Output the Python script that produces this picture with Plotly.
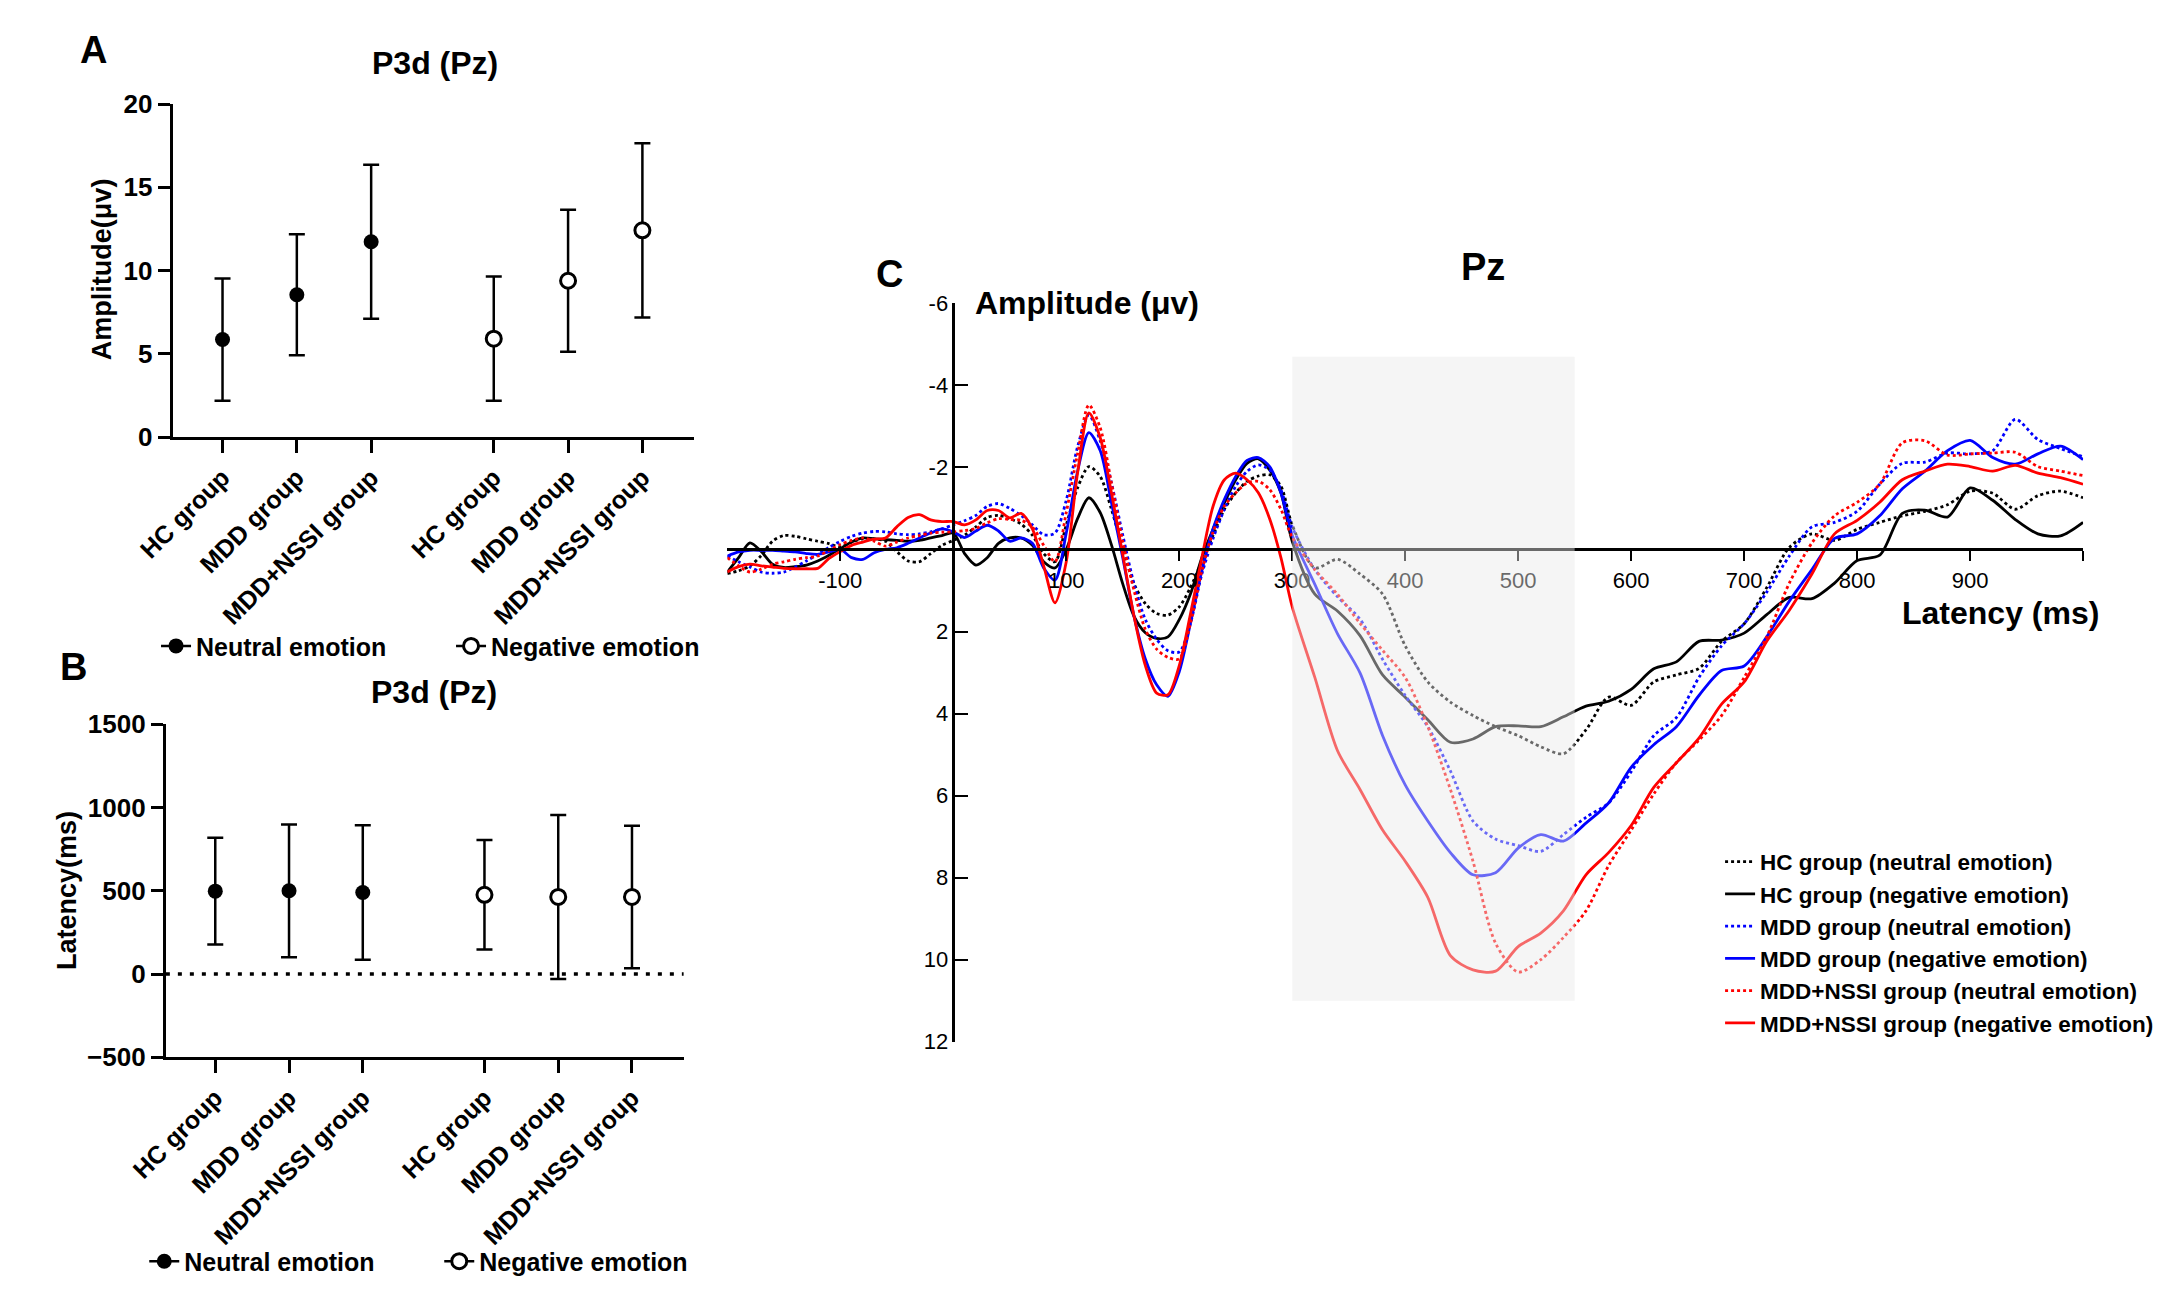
import plotly.graph_objects as go

W, H = 2164, 1289

# ---------------- data: panels A and B ----------------
groups = ['HC group', 'MDD group', 'MDD+NSSI group']
emotions = ['Neutral emotion', 'Negative emotion']

amp_neutral_mean = [5.86, 8.55, 11.73]
amp_neutral_sd = [3.67, 3.64, 4.62]
amp_negative_mean = [5.91, 9.39, 12.42]
amp_negative_sd = [3.73, 4.26, 5.23]

lat_neutral_mean = [498, 500, 490]
lat_neutral_sd = [321, 399, 404]
lat_negative_mean = [476, 463, 463]
lat_negative_sd = [329, 492, 428]

# ---------------- data: panel C (grand average ERP at Pz) ----------------
latency_ms = list(range(-200, 301, 10)) + list(range(320, 1001, 20))

hc_neutral = [
    0.59, 0.52, 0.40, 0.15, -0.20, -0.34, -0.32, -0.26, -0.20, -0.14,
    -0.06, -0.18, -0.26, -0.26, -0.20, 0.05, 0.28, 0.30, 0.10, -0.10,
    -0.22, -0.35, -0.55, -0.78, -0.83, -0.75, -0.62, -0.35, 0.10, 0.30,
    -0.60, -1.50, -2.02, -1.78, -0.98, -0.03, 0.84, 1.32, 1.56, 1.60,
    1.40, 0.92, 0.29, -0.35, -0.98, -1.38, -1.66, -1.79, -1.82, -1.54,
    -0.60,
    0.45, 0.24, 0.60, 1.09, 2.35, 3.23, 3.72, 4.05, 4.32, 4.54,
    4.81, 4.98, 4.40, 3.60, 3.80, 3.23, 3.06, 2.90, 2.24, 1.81,
    0.93, -0.05, -0.38, -0.22, -0.49, -0.66, -0.82, -0.93, -1.09, -1.42,
    -1.37, -0.98, -1.31, -1.42, -1.26]
hc_negative = [
    0.55, 0.20, -0.16, 0.05, 0.36, 0.44, 0.42, 0.38, 0.28, 0.14,
    -0.02, -0.18, -0.28, -0.26, -0.24, -0.22, -0.20, -0.22, -0.28, -0.34,
    -0.40, 0.10, 0.38, 0.20, -0.15, -0.28, -0.28, -0.10, 0.30, 0.45,
    0.00, -0.75, -1.26, -0.90, -0.11, 0.84, 1.63, 2.03, 2.17, 2.13,
    1.71, 1.08, 0.20, -0.50, -1.14, -1.70, -2.10, -2.21, -1.94, -1.38,
    -0.20,
    1.09, 1.50, 2.10, 3.06, 3.60, 4.15, 4.70, 4.62, 4.32, 4.30,
    4.32, 4.08, 3.82, 3.70, 3.41, 2.91, 2.74, 2.24, 2.21, 2.04,
    1.59, 1.17, 1.20, 0.82, 0.27, 0.14, -0.88, -0.96, -0.79, -1.50,
    -1.20, -0.73, -0.38, -0.33, -0.66]
mdd_neutral = [
    0.16, 0.30, 0.43, 0.55, 0.58, 0.55, 0.43, 0.28, 0.12, -0.05,
    -0.20, -0.32, -0.40, -0.44, -0.43, -0.38, -0.36, -0.38, -0.43, -0.50,
    -0.60, -0.70, -0.83, -1.05, -1.12, -1.00, -0.83, -0.60, -0.36, -0.40,
    -1.20, -2.50, -3.28, -2.65, -1.62, -0.35, 0.84, 1.71, 2.19, 2.47,
    2.50, 1.79, 0.60, -0.27, -0.98, -1.54, -1.90, -2.06, -1.94, -1.46,
    -0.55,
    0.49, 1.15, 1.70, 2.68, 3.56, 4.32, 5.40, 6.62, 7.06, 7.22,
    7.36, 6.95, 6.53, 6.18, 5.42, 4.54, 4.10, 3.12, 2.35, 1.81,
    1.04, 0.16, -0.55, -0.66, -0.93, -1.59, -2.10, -2.13, -2.35, -2.33,
    -2.41, -3.17, -2.68, -2.46, -2.26]
mdd_negative = [
    0.16, 0.06, 0.02, 0.02, 0.02, 0.04, 0.06, 0.10, 0.12, 0.06,
    0.00, 0.20, 0.24, 0.08, 0.00, -0.04, -0.15, -0.28, -0.40, -0.50,
    -0.43, -0.29, -0.45, -0.59, -0.45, -0.20, -0.28, -0.15, 0.45, 0.75,
    -0.40, -1.90, -2.85, -2.41, -1.14, 0.20, 1.63, 2.67, 3.30, 3.58,
    2.98, 1.79, 0.52, -0.51, -1.22, -1.78, -2.17, -2.24, -2.02, -1.38,
    -0.35,
    0.85, 2.05, 3.01, 4.54, 5.74, 6.62, 7.39, 7.93, 7.88, 7.28,
    6.95, 7.11, 6.67, 6.18, 5.31, 4.76, 4.32, 3.56, 2.95, 2.84,
    2.13, 1.26, 0.49, -0.27, -0.38, -0.82, -1.48, -1.91, -2.41, -2.66,
    -2.24, -2.08, -2.33, -2.52, -2.19]
nssi_neutral = [
    0.20, 0.40, 0.55, 0.48, 0.36, 0.30, 0.24, 0.20, 0.16, 0.02,
    -0.12, -0.22, -0.28, -0.20, -0.08, -0.18, -0.28, -0.34, -0.40, -0.42,
    -0.43, -0.46, -0.51, -0.65, -0.75, -0.73, -0.71, -0.55, -0.10, 0.30,
    -0.90, -2.33, -3.52, -2.97, -1.62, -0.19, 1.00, 1.95, 2.43, 2.63,
    2.67, 1.79, 0.52, -0.43, -1.06, -1.38, -1.62, -1.66, -1.46, -0.98,
    -0.30,
    0.49, 1.09, 1.80, 2.46, 3.12, 4.32, 5.85, 7.60, 9.60, 10.30,
    10.00, 9.46, 8.81, 7.71, 6.84, 5.96, 5.20, 4.65, 4.05, 3.12,
    2.13, 0.82, -0.16, -0.82, -1.15, -1.59, -2.60, -2.65, -2.30, -2.33,
    -2.35, -2.37, -2.02, -1.91, -1.80]
nssi_negative = [
    0.55, 0.42, 0.36, 0.40, 0.43, 0.46, 0.47, 0.47, 0.46, 0.22,
    0.05, -0.10, -0.18, -0.25, -0.28, -0.55, -0.78, -0.85, -0.72, -0.68,
    -0.68, -0.60, -0.72, -0.95, -0.95, -0.77, -0.88, -0.50, 0.40, 1.30,
    0.30, -1.86, -3.33, -2.73, -1.38, 0.13, 1.63, 2.83, 3.50, 3.54,
    2.83, 1.56, 0.20, -1.06, -1.70, -1.86, -1.70, -1.38, -0.75, 0.20,
    1.40,
    3.12, 4.90, 5.85, 6.84, 7.60, 8.48, 9.90, 10.25, 10.28, 9.68,
    9.35, 8.81, 7.93, 7.39, 6.73, 5.80, 5.20, 4.60, 3.77, 3.23,
    2.24, 1.48, 0.60, -0.38, -0.71, -1.15, -1.70, -1.91, -2.08, -2.02,
    -1.91, -2.05, -1.86, -1.75, -1.59]

c_series = [
    (hc_neutral, 'HC group (neutral emotion)', 'black', 'dot'),
    (hc_negative, 'HC group (negative emotion)', 'black', 'solid'),
    (mdd_neutral, 'MDD group (neutral emotion)', '#0000ff', 'dot'),
    (mdd_negative, 'MDD group (negative emotion)', '#0000ff', 'solid'),
    (nssi_neutral, 'MDD+NSSI group (neutral emotion)', '#ff0000', 'dot'),
    (nssi_negative, 'MDD+NSSI group (negative emotion)', '#ff0000', 'solid'),
]

# ---------------- helpers ----------------
def px(x):
    return x / W

def py(y):
    return 1 - y / H

FONT = 'Liberation Sans, Arial, sans-serif'
bold = dict(family=FONT, color='black', weight='bold')

# category positions with a gap between the two emotion blocks
gap = 3.65
pos_neutral = [i for i in range(len(groups))]
pos_negative = [i + gap for i in range(len(groups))]
cat_range = [-0.67, 6.35]

fig = go.Figure()

# ---------------- panels A & B ----------------
for xa, ya, leg, neu_m, neu_sd, neg_m, neg_sd in [
    ('x', 'y', 'legend2', amp_neutral_mean, amp_neutral_sd, amp_negative_mean, amp_negative_sd),
    ('x2', 'y2', 'legend3', lat_neutral_mean, lat_neutral_sd, lat_negative_mean, lat_negative_sd),
]:
    fig.add_trace(go.Scatter(
        x=pos_neutral, y=neu_m, mode='markers', xaxis=xa, yaxis=ya, showlegend=False,
        marker=dict(symbol='circle', size=15, color='black'),
        error_y=dict(type='data', array=neu_sd, thickness=2.5, width=8, color='black')))
    fig.add_trace(go.Scatter(
        x=pos_negative, y=neg_m, mode='markers', xaxis=xa, yaxis=ya, showlegend=False,
        marker=dict(symbol='circle', size=15, color='white', line=dict(color='black', width=3)),
        error_y=dict(type='data', array=neg_sd, thickness=2.5, width=8, color='black')))
    # legend entries
    fig.add_trace(go.Scatter(
        x=[None], y=[None], mode='lines+markers', name=emotions[0], legend=leg,
        xaxis=xa, yaxis=ya, line=dict(color='black', width=2.5),
        marker=dict(symbol='circle', size=15, color='black')))
    fig.add_trace(go.Scatter(
        x=[None], y=[None], mode='lines+markers', name=emotions[1], legend=leg,
        xaxis=xa, yaxis=ya, line=dict(color='black', width=2.5),
        marker=dict(symbol='circle', size=15, color='white', line=dict(color='black', width=3))))

# ---------------- panel C ----------------
for vals, name, color, dash in c_series:
    fig.add_trace(go.Scatter(
        x=latency_ms, y=vals, mode='lines', name=name, xaxis='x3', yaxis='y3',
        line=dict(color=color, width=2.8, dash=dash, shape='spline', smoothing=0.8)))

c_xrange = [-200, 1000]
c_yrange = [12, -6]
c_xdom = [px(693.5), px(2073.5)]
c_ydom = [py(1043), py(287)]
y0_paper = c_ydom[0] + (c_yrange[0] - 0) / (c_yrange[0] - c_yrange[1]) * (c_ydom[1] - c_ydom[0])
x0_paper = c_xdom[0] + (0 - c_xrange[0]) / (c_xrange[1] - c_xrange[0]) * (c_xdom[1] - c_xdom[0])

cat_axis = dict(
    tickmode='array', tickvals=pos_neutral + pos_negative, ticktext=groups + groups,
    range=cat_range, tickangle=-45, showline=True, linecolor='black', linewidth=3,
    ticks='outside', ticklen=13, tickwidth=3, tickcolor='black', showgrid=False,
    zeroline=False, tickfont=dict(**bold, size=25))
val_axis = dict(
    showline=True, linecolor='black', linewidth=3, ticks='outside', ticklen=12,
    tickwidth=3, tickcolor='black', showgrid=False, zeroline=False,
    tickfont=dict(**bold, size=26))

xticks_c = [-100, 100, 200, 300, 400, 500, 600, 700, 800, 900, 1000]
yticks_c = [-6, -4, -2, 2, 4, 6, 8, 10, 12]
light = dict(family=FONT, color='black', size=22)

fig.update_layout(
    width=W, height=H, margin=dict(l=0, r=0, t=0, b=0),
    paper_bgcolor='white', plot_bgcolor='rgba(0,0,0,0)',
    xaxis=dict(cat_axis, domain=[px(129), px(660)], anchor='y'),
    yaxis=dict(val_axis, domain=[py(424), py(83)], range=[0, 20], dtick=5, anchor='x'),
    xaxis2=dict(cat_axis, domain=[px(122), px(649)], anchor='y2'),
    yaxis2=dict(val_axis, domain=[py(1059), py(718)], range=[-500, 1500], dtick=500, anchor='x2'),
    xaxis3=dict(domain=c_xdom, range=c_xrange, anchor='free', position=y0_paper,
                showline=True, linecolor='black', linewidth=2.5, ticks='outside',
                ticklen=10, tickwidth=1.5, tickcolor='black', tickmode='array',
                tickvals=xticks_c, ticktext=[str(v) if v != 1000 else '' for v in xticks_c],
                showgrid=False, zeroline=False, tickfont=light),
    yaxis3=dict(domain=c_ydom, range=c_yrange, anchor='free', position=x0_paper,
                showline=True, linecolor='black', linewidth=2.5, ticks='inside',
                ticklen=13, tickwidth=1.5, tickcolor='black', tickmode='array',
                tickvals=yticks_c, ticktext=[str(v) for v in yticks_c],
                showgrid=False, zeroline=False, tickfont=light),
    legend=dict(x=px(1704), y=py(837), xanchor='left', yanchor='top',
                font=dict(**bold, size=22.5),
                tracegroupgap=0, bgcolor='rgba(0,0,0,0)', itemwidth=30),
    legend2=dict(orientation='h', x=px(112), y=py(638), xanchor='left', yanchor='middle',
                 entrywidth=250, entrywidthmode='pixels',
                 font=dict(**bold, size=25), bgcolor='rgba(0,0,0,0)'),
    legend3=dict(orientation='h', x=px(100), y=py(1268), xanchor='left', yanchor='middle',
                 entrywidth=250, entrywidthmode='pixels',
                 font=dict(**bold, size=25), bgcolor='rgba(0,0,0,0)'),
    showlegend=True,
)

# dotted zero reference in panel B
fig.add_shape(type='line', xref='x2 domain', yref='y2', x0=0, x1=1, y0=0, y1=0,
              line=dict(color='black', width=3.5, dash='4px,8px'))

# analysis window in panel C (semi-transparent, drawn over the curves)
fig.add_shape(type='rect', xref='x3', yref='y3', x0=300, x1=550, y0=-4.7, y1=11.0,
              layer='above', fillcolor='rgba(232,232,232,0.45)', line=dict(width=0))

# ---------------- text ----------------
def label(text, x, y, size, xanchor='center', angle=0):
    fig.add_annotation(text=text, x=px(x), y=py(y), xref='paper', yref='paper',
                       showarrow=False, xanchor=xanchor, yanchor='middle', textangle=angle,
                       font=dict(family=FONT, size=size, color='black', weight='bold'))

label('A', 48, 28, 38)
label('P3d (Pz)', 396, 41, 32)
label('Amplitude(μv)', 57, 252, 27, angle=-90)
label('B', 28, 659, 38)
label('P3d (Pz)', 395, 685, 32)
label('Latency(ms)', 22, 888, 27, angle=-90)
label('C', 859, 257, 38)
label('Pz', 1463, 250, 38)
label('Amplitude (μv)', 944, 287, 32, xanchor='left')
label('Latency (ms)', 2092, 604, 32, xanchor='right')

fig.write_html('out.html')
